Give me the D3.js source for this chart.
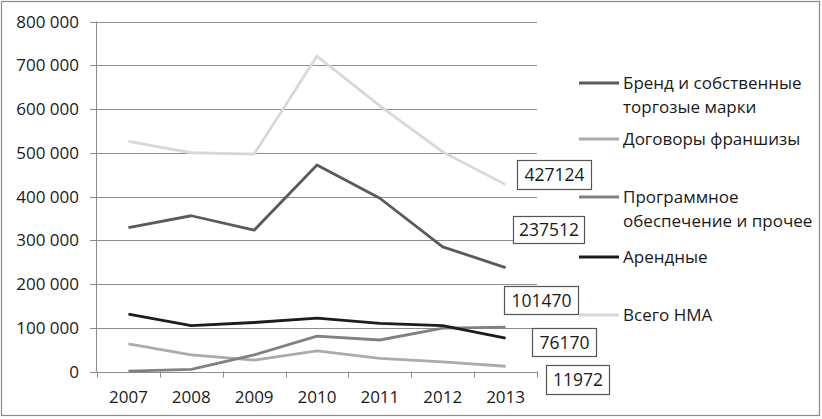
<!DOCTYPE html>
<html><head><meta charset="utf-8">
<script src="https://cdn.jsdelivr.net/npm/d3@7"></script>
<style>body{margin:0;background:#fff}svg{display:block}text{font-family:"Open Sans",sans-serif;fill:#1a1a1a}</style>
</head><body><svg id="c" width="822" height="419"></svg>
<script>
const years = ["2007","2008","2009","2010","2011","2012","2013"];
const yTicks = [0,100000,200000,300000,400000,500000,600000,700000,800000];
const brand = [329000,356000,323000,472000,396000,285000,237512];
const franchise = [63000,38000,26000,47000,30000,22000,11972];
const software = [1000,5000,38000,81000,72000,99000,101470];
const rent = [131000,105000,112000,122000,110000,105000,76170];
const total = [526000,500000,497000,721000,607000,502000,427124];

const seriesNames = [["Бренд и собственные","торгозые марки"],["Договоры франшизы"],["Программное","обеспечение и прочее"],["Арендные"],["Всего НМА"]];
const seriesData = [brand, franchise, software, rent, total];
const seriesColors = ["#5a5a5a","#ababab","#818181","#1c1c1c","#d8d8d8"];
// draw order (back to front)
const drawOrder = [4,1,2,0,3];
const legendY = [83,139,197,257,315];
// label boxes: [seriesIndex, left, top, width, height]
const labelLayout = [[4,517,160,74,29],[0,513,216,71,27],[2,504,286,74,28],[3,532,328,64,28],[1,546,365,63,29]];

const svg = d3.select("#c");
svg.append("rect").attr("x",1.5).attr("y",1.5).attr("width",818).attr("height",414).attr("fill","#fff").attr("stroke","#8a8a8a").attr("stroke-width",1.2);

const x = d3.scaleBand().domain(years).range([97,537]).padding(0);
const y = d3.scaleLinear().domain([0,800000]).range([371.5,21.5]);
const fmt = v => d3.format(",")(v).replace(/,/g," ");

// gridlines
svg.append("g").selectAll("line").data(yTicks).join("line")
  .attr("x1",90).attr("x2",537).attr("y1",d=>Math.round(y(d))+0.5).attr("y2",d=>Math.round(y(d))+0.5)
  .attr("stroke","#8c8c8c").attr("stroke-width",1);
// y axis line
svg.append("line").attr("x1",96.5).attr("x2",96.5).attr("y1",y(800000)).attr("y2",y(0)).attr("stroke","#8c8c8c");
// y tick labels
svg.append("g").selectAll("text").data(yTicks).join("text")
  .attr("x",79).attr("y",d=>y(d)).attr("dy","0.36em").attr("text-anchor","end")
  .attr("font-size",17).text(d=>fmt(d));
// x ticks
const xt = years.map(d=>x(d)).concat([x.range()[1]]);
svg.append("g").selectAll("line").data(xt).join("line")
  .attr("x1",d=>Math.round(d)+0.5).attr("x2",d=>Math.round(d)+0.5).attr("y1",y(0)).attr("y2",y(0)+6)
  .attr("stroke","#8c8c8c");
svg.append("g").selectAll("text").data(years).join("text")
  .attr("x",d=>x(d)+x.bandwidth()/2).attr("y",397).attr("dy","0.36em").attr("text-anchor","middle")
  .attr("font-size",17).text(d=>d);

// lines
const line = d3.line().x((d,i)=>x(years[i])+x.bandwidth()/2).y(d=>y(d));
drawOrder.forEach(si=>{
  svg.append("path").datum(seriesData[si]).attr("d",line).attr("fill","none")
    .attr("stroke",seriesColors[si]).attr("stroke-width",2.8).attr("stroke-linejoin","round");
});

// legend
const lg = svg.append("g");
seriesNames.forEach((nm,i)=>{
  lg.append("line").attr("x1",579).attr("x2",619).attr("y1",legendY[i]).attr("y2",legendY[i])
    .attr("stroke",seriesColors[i]).attr("stroke-width",2.8);
  nm.forEach((t,j)=>{
    lg.append("text").attr("x",623).attr("y",legendY[i]+j*24).attr("dy","0.36em").attr("font-size",17).text(t);
  });
});

// data labels
labelLayout.forEach(([si,l,t,w,h])=>{
  const v = seriesData[si][seriesData[si].length-1];
  svg.append("rect").attr("x",l+0.5).attr("y",t+0.5).attr("width",w).attr("height",h)
    .attr("fill","#fff").attr("stroke","#555").attr("stroke-width",1.2);
  svg.append("text").attr("x",l+w/2+0.5).attr("y",t+h/2+0.5).attr("dy","0.36em").attr("text-anchor","middle")
    .attr("font-size",17.5).text(String(v));
});
</script></body></html>
